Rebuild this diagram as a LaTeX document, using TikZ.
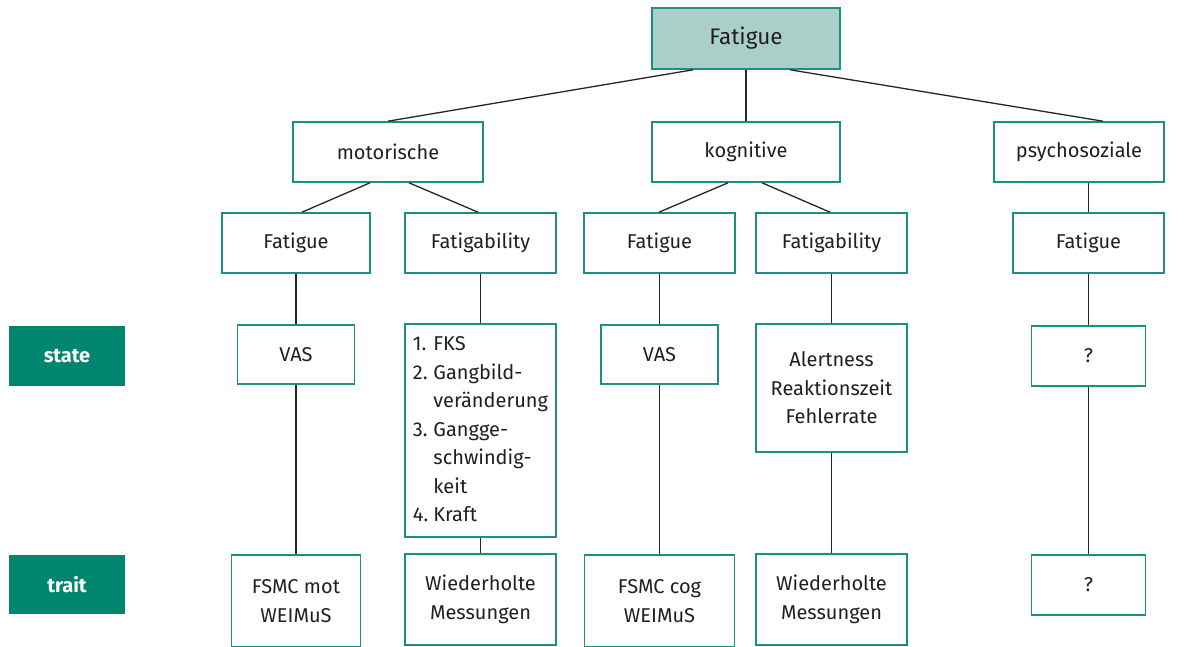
\documentclass[tikz,border=0pt]{standalone}
\usepackage{fontspec}
\setmainfont{Fira Sans}
\definecolor{tealline}{HTML}{1A9080}
\definecolor{tealfill}{HTML}{AACFC9}
\definecolor{tealdark}{HTML}{00856F}
\definecolor{textgray}{HTML}{231F20}
\begin{document}
\begin{tikzpicture}[x=1pt,y=-1pt]
  \tikzset{box/.style = {draw=tealline, line width=1.6pt, fill=white, minimum width=#1, minimum height=60pt, inner sep=0pt, text=textgray, align=center, font=\fontsize{20}{28.5}\selectfont}}
  \tikzset{box/.default=151}
  \tikzset{tag/.style = {fill=tealdark, minimum width=116pt, minimum height=60pt, inner sep=0pt, text=white, font=\fontsize{20}{24}\selectfont\bfseries}}
  \tikzset{conn/.style = {line width=1.3pt, draw=black!85}}

  \useasboundingbox (0,0) rectangle (1189,647);

  % Top
  \node [box=188, minimum height=61pt, fill=tealfill, font=\fontsize{22.5}{28}\selectfont] (fat) at (746,38.5) {Fatigue};

  % Dimensions
  \node [box=190] (mot) at (388,152) {motorische};
  \node [box=188] (kog) at (746,152) {kognitive};
  \node [box=170] (psy) at (1079,152) {psychosoziale};

  % Fatigue / Fatigability
  \node [box=148] (motfat) at (296,243) {Fatigue};
  \node [box] (motabl) at (480.5,243) {Fatigability};
  \node [box] (kogfat) at (659.5,243) {Fatigue};
  \node [box] (kogabl) at (831.5,243) {Fatigability};
  \node [box] (psyfat) at (1088.5,243) {Fatigue};

  % state
  \node [tag] (state) at (67,356) {state};
  \node [box=117, minimum height=59pt] (motvas) at (296,354.5) {VAS};
  \node [box, minimum height=213pt, align=left] (motlist) at (480.5,430.5) {%
    \begin{tabular}{@{}l@{\hspace{5pt}}l@{}}
      1. & FKS\\
      2. & Gangbild-\\
         & veränderung\\
      3. & Gangge-\\
         & schwindig-\\
         & keit\\
      4. & Kraft
    \end{tabular}};
  \node [box=117, minimum height=59pt] (kogvas) at (659.5,354.5) {VAS};
  \node [box, minimum height=128pt] (kogtest) at (831.5,388) {Alertness\\Reaktionszeit\\Fehlerrate};
  \node [box=114] (psystate) at (1088.5,356) {?};

  % trait
  \node [tag, minimum height=59pt] (trait) at (67,584.5) {trait};
  \node [box=129, minimum height=92pt] (motfsmc) at (296,601) {FSMC mot\\WEIMuS};
  \node [box, minimum height=91pt] (motwied) at (480.5,599.5) {Wiederholte\\Messungen};
  \node [box=150, minimum height=92pt] (kogfsmc) at (659.5,601) {FSMC cog\\WEIMuS};
  \node [box, minimum height=91pt] (kogwied) at (831.5,599.5) {Wiederholte\\Messungen};
  \node [box=114] (psytrait) at (1088.5,585) {?};

  % Connectors
  \draw [conn] ([xshift=-53pt]fat.south) -- (mot.north);
  \draw [conn] (fat.south) -- (kog.north);
  \draw [conn] ([xshift=44pt]fat.south) -- ([xshift=24pt]psy.north);

  \draw [conn] ([xshift=-18pt]mot.south) -- ([xshift=6pt]motfat.north);
  \draw [conn] ([xshift=21pt]mot.south) -- ([xshift=-2.5pt]motabl.north);
  \draw [conn] ([xshift=-18pt]kog.south) -- ([xshift=-0.5pt]kogfat.north);
  \draw [conn] ([xshift=16pt]kog.south) -- ([xshift=-1.5pt]kogabl.north);
  \draw [conn] (psy.south -| psyfat) -- (psyfat.north);

  \draw [conn] (motfat) -- (motvas) -- (motfsmc);
  \draw [conn] (motabl) -- (motlist) -- (motwied);
  \draw [conn] (kogfat) -- (kogvas) -- (kogfsmc);
  \draw [conn] (kogabl) -- (kogtest) -- (kogwied);
  \draw [conn] (psyfat) -- (psystate) -- (psytrait);
\end{tikzpicture}
\end{document}
